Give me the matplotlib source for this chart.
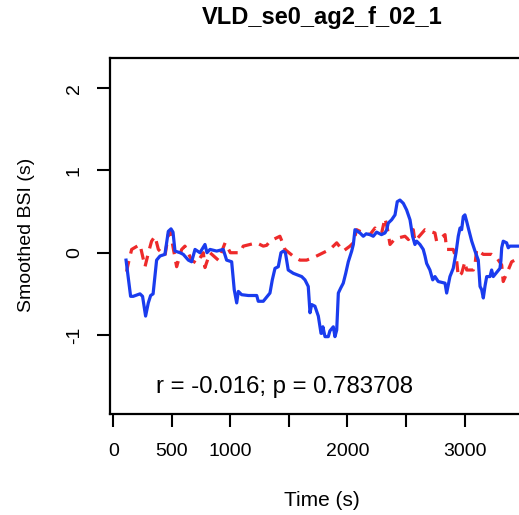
import matplotlib
matplotlib.use("Agg")
import matplotlib.pyplot as plt

# ---- data ----
blue_t = [109, 148, 170, 228, 250, 276, 299, 319, 340, 370, 399, 441, 470, 493, 510, 527, 570, 598,
          641, 669, 698, 740, 783, 800, 826, 883, 939, 968, 1011, 1033, 1054, 1068, 1096, 1153, 1225,
          1238, 1281, 1338, 1358, 1381, 1409, 1432, 1452, 1470, 1494, 1537, 1609, 1637, 1665, 1680,
          1694, 1722, 1751, 1774, 1779, 1790, 1808, 1836, 1850, 1879, 1893, 1908, 1922, 1942, 1964,
          1985, 2007, 2036, 2050, 2064, 2107, 2135, 2160, 2192, 2220, 2249, 2290, 2320, 2335, 2348,
          2377, 2406, 2425, 2448, 2477, 2505, 2534, 2556, 2576, 2591, 2619, 2647, 2662, 2676, 2704,
          2728, 2747, 2775, 2833, 2847, 2860, 2875, 2903, 2927, 2946, 2961, 2975, 2989, 3003, 3018,
          3032, 3061, 3089, 3117, 3132, 3146, 3160, 3175, 3189, 3217, 3231, 3245, 3302, 3310, 3317,
          3330, 3359, 3373, 3387, 3420, 3480]
blue_v = [-0.09, -0.53, -0.53, -0.50, -0.53, -0.77, -0.61, -0.52, -0.50, -0.09, -0.04, -0.02, 0.26,
          0.29, 0.25, 0.02, 0.00, -0.02, -0.09, -0.11, 0.04, 0.00, 0.10, 0.00, 0.04, 0.02, 0.04, -0.09,
          -0.11, -0.45, -0.61, -0.47, -0.51, -0.52, -0.52, -0.59, -0.59, -0.49, -0.33, -0.19, -0.17,
          0.00, 0.02, 0.00, -0.21, -0.25, -0.29, -0.33, -0.41, -0.73, -0.63, -0.65, -0.77, -0.98,
          -0.98, -0.90, -1.02, -1.02, -0.95, -0.90, -1.02, -0.94, -0.49, -0.43, -0.37, -0.25, -0.11,
          0.02, 0.10, 0.28, 0.24, 0.20, 0.23, 0.22, 0.20, 0.25, 0.22, 0.24, 0.28, 0.36, 0.40, 0.46,
          0.62, 0.64, 0.60, 0.52, 0.40, 0.20, 0.10, 0.14, 0.10, 0.04, -0.04, -0.13, -0.21, -0.33,
          -0.29, -0.35, -0.37, -0.49, -0.40, -0.29, -0.19, 0.00, 0.20, 0.30, 0.28, 0.44, 0.46, 0.38,
          0.30, 0.14, 0.02, -0.09, -0.41, -0.45, -0.55, -0.40, -0.29, -0.29, -0.21, -0.29, -0.19,
          -0.10, 0.06, 0.14, 0.12, 0.06, 0.08, 0.08, 0.08]

red_t = [114, 125, 157, 228, 271, 300, 327, 356, 385, 441, 470, 484, 500, 541, 584, 612, 669, 712,
         769, 783, 826, 897, 955, 1000, 1082, 1110, 1167, 1224, 1281, 1310, 1338, 1380, 1423, 1446,
         1466, 1552, 1594, 1651, 1708, 1765, 1850, 1908, 1964, 2021, 2050, 2078, 2107, 2150, 2192,
         2235, 2260, 2292, 2320, 2340, 2363, 2406, 2491, 2520, 2562, 2576, 2662, 2704, 2747, 2761,
         2833, 2847, 2903, 2932, 2946, 2975, 3003, 3018, 3075, 3089, 3103, 3140, 3160, 3230, 3274,
         3317, 3330, 3373, 3402, 3430, 3470]
red_v = [-0.23, -0.15, 0.04, 0.10, -0.17, 0.00, 0.14, 0.20, 0.04, -0.04, 0.22, 0.26, 0.15, -0.17,
         0.04, 0.08, -0.09, -0.13, 0.00, -0.18, 0.00, -0.09, 0.12, 0.00, 0.00, 0.08, 0.10, 0.12, 0.08,
         0.09, 0.14, 0.17, 0.20, 0.12, 0.04, -0.06, -0.09, -0.09, -0.06, -0.02, 0.04, 0.12, 0.02,
         0.08, 0.12, 0.28, 0.26, 0.24, 0.22, 0.30, 0.25, 0.24, 0.42, 0.30, 0.10, 0.17, 0.20, 0.16,
         0.28, 0.14, 0.28, 0.26, 0.24, 0.14, 0.22, 0.04, 0.04, -0.09, -0.29, -0.25, -0.11, -0.21,
         -0.21, -0.15, 0.04, 0.00, -0.02, -0.02, -0.06, -0.15, -0.35, -0.21, -0.11, -0.09, -0.08]

x_ticks = [0, 500, 1000, 1500, 2000, 2500, 3000, 3500]
x_tick_labels = ["0", "500", "1000", "", "2000", "", "3000", ""]
y_ticks = [-1, 0, 1, 2]
y_tick_labels = ["-1", "0", "1", "2"]

title = "VLD_se0_ag2_f_02_1"
xlabel = "Time (s)"
ylabel = "Smoothed BSI (s)"
annotation = "r = -0.016; p = 0.783708"

plt.rcParams['font.family'] = ['Liberation Sans', 'DejaVu Sans']

W, H = 519, 515
fig = plt.figure(figsize=(W / 100, H / 100), dpi=100)

# axes: left edge at px 110, top 57.7, bottom 414; extends beyond the right edge (cropped)
x_lo, x_hi = -28, 3700
px_per_unit = 0.1171
ax_w_px = (x_hi - x_lo) * px_per_unit
left_px, top_px, bot_px = 110, 57.7, 414
ax = fig.add_axes([left_px / W, 1 - bot_px / H, ax_w_px / W, (bot_px - top_px) / H])

ax.plot(red_t, red_v, color='#ee2a2a', lw=2.3, ls=(0, (3.4, 2.4)), solid_capstyle='butt')
ax.plot(blue_t, blue_v, color='#1a3cee', lw=2.3)

ax.set_xlim(x_lo, x_hi)
ax.set_ylim(-1.96, 2.37)

ax.set_xticks(x_ticks)
ax.set_xticklabels(x_tick_labels, fontsize=14)
ax.set_yticks(y_ticks)
ax.set_yticklabels(y_tick_labels, fontsize=14, rotation=90, va='center')
ax.tick_params(axis='x', length=9, width=1.5, pad=12)
ax.tick_params(axis='y', length=9.5, width=1.5, pad=10)
for s in ax.spines.values():
    s.set_linewidth(1.6)

fig.text(322 / W, 1 - 17.5 / H, title, ha='center', va='center', fontsize=17, fontweight='bold')
fig.text(322 / W, 1 - 500 / H, xlabel, ha='center', va='center', fontsize=15)
fig.text(27 / W, 1 - 235 / H, ylabel, ha='center', va='center', fontsize=14, rotation=90)
fig.text(284 / W, 1 - 387 / H, annotation, ha='center', va='center', fontsize=17.3)

fig.savefig("out.png", dpi=100)
